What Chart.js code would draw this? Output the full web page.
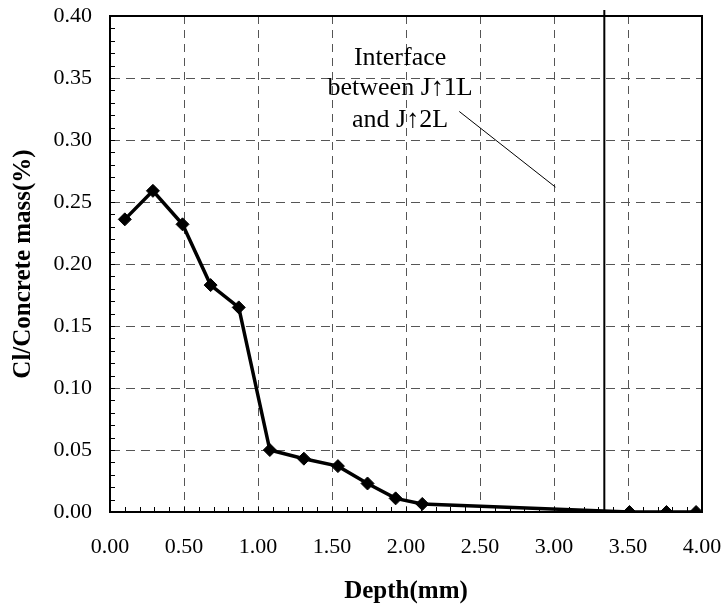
<!DOCTYPE html>
<html>
<head>
<meta charset="utf-8">
<script src="https://cdn.jsdelivr.net/npm/chart.js@4/dist/chart.umd.min.js"></script>
<style>
  html, body { margin: 0; padding: 0; background: #fff; }
  #wrap { width: 727px; height: 609px; }
</style>
</head>
<body>
<div id="wrap"><canvas id="chloride"></canvas></div>
<script>
// chloride profile measured through depth
const depthMm = [0.10, 0.29, 0.49, 0.68, 0.87, 1.08, 1.31, 1.54, 1.74, 1.93, 2.11, 3.51, 3.76, 3.96];
const chloridePct = [0.236, 0.259, 0.232, 0.183, 0.165, 0.050, 0.043, 0.037, 0.023, 0.011, 0.0065, 0.0, 0.0, 0.0];

// layer boundary between the two coats
const interfaceDepth = 3.34;
const noteLines = ["Interface", "between J\u21911L", "and J\u21912L"];

const serif = "'Liberation Serif', 'Times New Roman', serif";

// fixed scale sizes, no extra room for overhanging labels
function fixSize(s, w, h) {
  if (w) s.width = w;
  if (h) s.height = h;
  s.paddingTop = s.paddingBottom = s.paddingLeft = s.paddingRight = 0;
}

const frame = {
  id: "frame",
  afterDatasetsDraw(chart) {
    const { ctx, chartArea: a, scales: { x, y } } = chart;
    ctx.save();

    // minor ticks pointing inward
    ctx.strokeStyle = "#000";
    ctx.lineWidth = 1;
    ctx.beginPath();
    for (let i = 1; i < 40; i++) {
      const px = Math.round(x.getPixelForValue(i / 10)) + 0.5;
      ctx.moveTo(px, a.bottom);
      ctx.lineTo(px, a.bottom - 5);
    }
    for (let i = 1; i < 40; i++) {
      const py = Math.round(y.getPixelForValue(i / 100)) + 0.5;
      ctx.moveTo(a.left, py);
      ctx.lineTo(a.left + 5, py);
    }
    ctx.stroke();

    // box round the plot
    ctx.lineWidth = 2;
    ctx.strokeRect(a.left, a.top, a.right - a.left, a.bottom - a.top);

    // interface line, poking a little above the frame
    const ix = x.getPixelForValue(interfaceDepth);
    ctx.beginPath();
    ctx.moveTo(ix, a.top - 6);
    ctx.lineTo(ix, a.bottom);
    ctx.stroke();

    // note and its leader
    ctx.lineWidth = 1;
    ctx.beginPath();
    ctx.moveTo(x.getPixelForValue(2.36), y.getPixelForValue(0.323));
    ctx.lineTo(x.getPixelForValue(3.01), y.getPixelForValue(0.262));
    ctx.stroke();

    ctx.fillStyle = "#000";
    ctx.font = "26px " + serif;
    ctx.textAlign = "center";
    ctx.textBaseline = "middle";
    const cx = x.getPixelForValue(1.96);
    const rows = [0.366, 0.342, 0.316];
    noteLines.forEach((t, i) => ctx.fillText(t, cx, y.getPixelForValue(rows[i])));

    ctx.restore();
  }
};

new Chart(document.getElementById("chloride"), {
  type: "line",
  data: {
    datasets: [{
      data: depthMm.map((d, i) => ({ x: d, y: chloridePct[i] })),
      borderColor: "#000",
      backgroundColor: "#000",
      borderWidth: 3.5,
      pointStyle: "rectRot",
      pointRadius: 6.5,
      pointBorderWidth: 1,
      tension: 0
    }]
  },
  options: {
    responsive: true,
    maintainAspectRatio: false,
    animation: false,
    layout: { padding: { top: 16, right: 25, left: 0, bottom: 0 } },
    plugins: { legend: { display: false }, tooltip: { enabled: false } },
    scales: {
      x: {
        type: "linear",
        min: 0, max: 4,
        afterFit(s) { fixSize(s, 0, 97); },
        ticks: {
          stepSize: 0.5,
          padding: 22,
          color: "#000",
          font: { family: serif, size: 22 },
          callback: v => v.toFixed(2)
        },
        grid: { color: "#555", drawTicks: false, lineWidth: 1 },
        border: { display: true, color: "#000", width: 2, dash: [8, 6] },
        title: {
          display: true,
          text: "Depth(mm)",
          color: "#000",
          font: { family: serif, size: 25, weight: "bold" },
          padding: { top: 0, bottom: 2 }
        }
      },
      y: {
        min: 0, max: 0.4,
        afterFit(s) { fixSize(s, 110, 0); },
        ticks: {
          stepSize: 0.05,
          padding: 18,
          color: "#000",
          font: { family: serif, size: 22 },
          callback: v => v.toFixed(2)
        },
        grid: { color: "#555", drawTicks: false, lineWidth: 1 },
        border: { display: true, color: "#000", width: 2, dash: [9, 6] },
        title: {
          display: true,
          text: "Cl/Concrete mass(%)",
          color: "#000",
          font: { family: serif, size: 25, weight: "bold" },
          padding: { top: 9, bottom: 0 }
        }
      }
    }
  },
  plugins: [frame]
});
</script>
</body>
</html>
